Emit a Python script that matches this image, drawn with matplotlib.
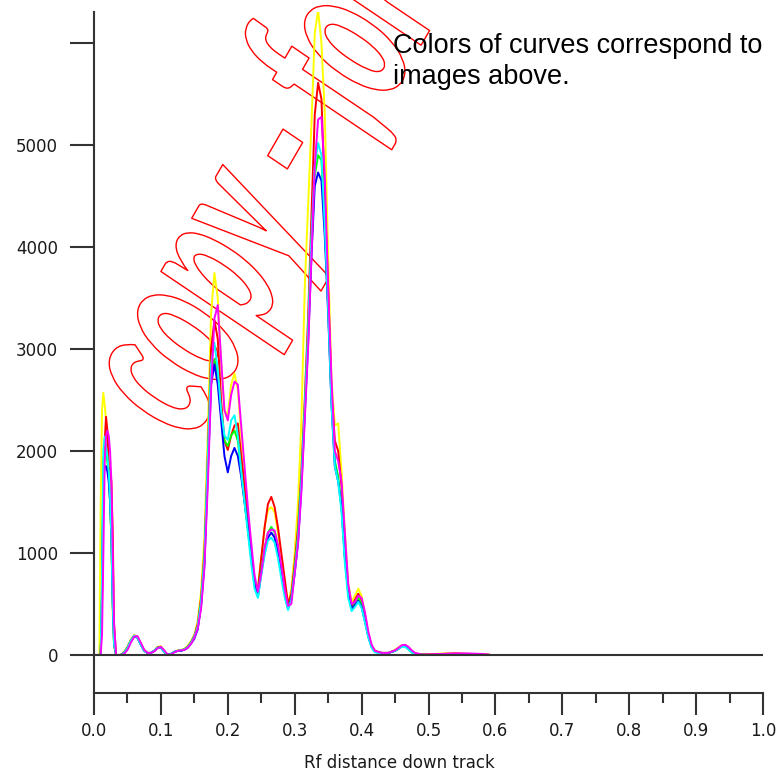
import numpy as np
import matplotlib
matplotlib.use("Agg")
import matplotlib.pyplot as plt
import matplotlib.patheffects as pe
from matplotlib.ticker import MultipleLocator
from matplotlib.transforms import Affine2D

# Rf positions along the track (shared by all six profiles)
rf = [0.000, 0.008, 0.010, 0.012, 0.014, 0.016, 0.018, 0.020, 0.022, 0.024, 0.026, 0.028, 0.030,
      0.033, 0.036, 0.040, 0.045, 0.050, 0.055, 0.060, 0.065, 0.070, 0.075, 0.080, 0.085,
      0.090, 0.095, 0.100, 0.105, 0.110, 0.115, 0.120, 0.125, 0.130, 0.135, 0.140, 0.145,
      0.150, 0.155, 0.160, 0.165, 0.170, 0.175, 0.180, 0.185, 0.190, 0.195, 0.200, 0.205,
      0.210, 0.215, 0.220, 0.225, 0.230, 0.235, 0.240, 0.245, 0.250, 0.255, 0.260, 0.265,
      0.270, 0.275, 0.280, 0.285, 0.290, 0.295, 0.300, 0.305, 0.310, 0.315, 0.320, 0.325,
      0.330, 0.335, 0.340, 0.345, 0.350, 0.355, 0.360, 0.365, 0.370, 0.375, 0.380, 0.385,
      0.390, 0.395, 0.400, 0.405, 0.410, 0.415, 0.420, 0.430, 0.440, 0.450, 0.455, 0.460,
      0.465, 0.470, 0.475, 0.480, 0.490, 0.500, 0.520, 0.540, 0.560, 0.580, 0.590]

yellow = [0, 0, 1500, 2400, 2570, 2450, 2300, 2100, 1900, 1600, 1050, 400, 80,
          0, 0, 0, 30, 80, 150, 195, 180, 110, 50, 20, 20,
          40, 80, 85, 40, 5, 10, 30, 45, 50, 60, 90, 135,
          200, 330, 620, 1150, 2150, 3350, 3745, 3500, 2850, 2400, 2350, 2650,
          2760, 2600, 2150, 1750, 1350, 1000, 720, 650, 950, 1250, 1420, 1450,
          1400, 1200, 950, 700, 500, 650, 1000, 1500, 2300, 3600, 4400, 5200,
          6100, 6320, 6000, 5300, 3900, 2700, 2250, 2270, 1800, 1200, 700, 520,
          580, 650, 580, 400, 210, 90, 40, 20, 20, 50, 75, 95,
          100, 70, 40, 15, 5, 5, 15, 15, 10, 10, 5]

red = [0, 0, 0, 500, 1600, 2100, 2335, 2200, 1850, 1800, 1700, 1200, 300,
       0, 0, 0, 25, 75, 145, 190, 175, 105, 45, 20, 20,
       40, 75, 80, 35, 0, 10, 30, 40, 45, 55, 80, 125,
       190, 300, 560, 1000, 1950, 3000, 3280, 3100, 2500, 2100, 2010, 2150,
       2250, 2270, 1950, 1650, 1350, 1000, 720, 640, 950, 1250, 1480, 1550,
       1450, 1250, 1000, 750, 500, 600, 900, 1250, 1800, 2500, 3300, 4300,
       5300, 5610, 5450, 4500, 3600, 2600, 2100, 2000, 1650, 1100, 650, 480,
       540, 600, 540, 380, 200, 90, 40, 20, 20, 45, 65, 85,
       90, 65, 35, 15, 5, 5, 10, 15, 10, 5, 0]

green = [0, 0, 0, 700, 1900, 2000, 1950, 1900, 1750, 1500, 1150, 500, 100,
         0, 0, 0, 20, 70, 140, 185, 170, 100, 40, 20, 20,
         40, 70, 75, 30, 0, 10, 30, 40, 45, 55, 75, 120,
         180, 270, 500, 920, 1850, 2750, 2900, 2750, 2350, 2100, 2050, 2150,
         2200, 2100, 1800, 1500, 1230, 950, 680, 600, 830, 1050, 1200, 1255,
         1200, 1020, 800, 600, 460, 560, 850, 1180, 1720, 2420, 3150, 4000,
         4700, 4900, 4850, 4200, 3400, 2500, 1900, 1750, 1450, 950, 600, 450,
         500, 560, 500, 340, 180, 80, 30, 20, 20, 40, 60, 85,
         85, 55, 25, 10, 5, 0, 0, 5, 0, 0, 0]

blue = [0, 0, 0, 600, 1700, 1850, 1850, 1800, 1700, 1500, 1150, 500, 100,
        0, 0, 0, 20, 60, 130, 180, 170, 100, 40, 20, 20,
        40, 70, 70, 30, 0, 10, 30, 40, 40, 50, 70, 110,
        160, 250, 480, 880, 1750, 2650, 2850, 2650, 2300, 1950, 1790, 1950,
        2030, 1950, 1750, 1500, 1250, 950, 700, 570, 800, 1000, 1150, 1200,
        1150, 1000, 800, 600, 450, 550, 800, 1100, 1650, 2350, 3050, 3900,
        4600, 4730, 4650, 4100, 3350, 2450, 1850, 1700, 1450, 950, 620, 450,
        490, 530, 470, 330, 180, 80, 30, 20, 20, 40, 60, 85,
        90, 60, 30, 10, 0, 0, 0, 0, 0, 0, 0]

cyan = [0, 0, 0, 800, 2000, 2140, 2050, 1950, 1800, 1550, 1150, 500, 100,
        0, 0, 0, 20, 70, 140, 190, 170, 100, 40, 20, 20,
        40, 70, 75, 30, 0, 10, 30, 40, 45, 55, 75, 120,
        180, 280, 520, 950, 1900, 2850, 3060, 2800, 2400, 2150, 2110, 2300,
        2350, 2150, 1800, 1500, 1200, 900, 650, 560, 780, 980, 1120, 1150,
        1100, 950, 750, 570, 440, 540, 820, 1150, 1700, 2400, 3150, 4100,
        4800, 5020, 4900, 4200, 3400, 2450, 1850, 1700, 1400, 900, 560, 430,
        470, 520, 460, 320, 170, 70, 25, 15, 20, 40, 60, 80,
        80, 55, 25, 5, 0, 0, 0, 0, 0, 0, 0]

magenta = [0, 0, 0, 200, 1000, 1900, 2150, 2200, 2150, 2000, 1700, 1000, 300,
           0, 0, 0, 10, 50, 120, 180, 185, 120, 50, 20, 20,
           35, 65, 80, 45, 5, 5, 25, 40, 45, 50, 70, 110,
           170, 260, 450, 850, 1650, 2600, 3300, 3430, 2900, 2400, 2300, 2550,
           2680, 2650, 2250, 1850, 1450, 1100, 780, 620, 800, 1050, 1200, 1230,
           1220, 1080, 880, 650, 480, 500, 800, 1100, 1600, 2300, 3000, 3900,
           4800, 5250, 5275, 4700, 3600, 2700, 2000, 1900, 1700, 1200, 700, 500,
           520, 580, 560, 420, 230, 100, 40, 20, 20, 45, 70, 95,
           100, 80, 45, 20, 5, 5, 10, 15, 15, 10, 5]

series = [yellow, red, green, blue, cyan, magenta]
colors = ["#ffff00", "#ff0000", "#00ff00", "#0000ff", "#00ffff", "#ff00ff"]

yticks = [0, 1000, 2000, 3000, 4000, 5000, 6000]
ytick_labels = ["0", "1000", "2000", "3000", "4000", "5000", ""]

note = "Colors of curves correspond to\nimages above."
watermark = "copy - for"

axis_col = "#333333"


class Outline(pe.AbstractPathEffect):
    # draws only the glyph outline, stretched upward from the baseline
    def __init__(self, stretch=1.0, color="red", lw=1.0):
        super().__init__()
        self.stretch = stretch
        self.color = color
        self.lw = lw

    def draw_path(self, renderer, gc, tpath, affine, rgbFace=None):
        gc0 = renderer.new_gc()
        gc0.copy_properties(gc)
        gc0.set_foreground(self.color)
        gc0.set_linewidth(self.lw)
        renderer.draw_path(gc0, tpath, Affine2D().scale(1, self.stretch) + affine, None)
        gc0.restore()


fig = plt.figure(figsize=(7.78, 7.73), dpi=100)
ax = fig.add_axes([94 / 778, 80 / 773, 669 / 778, 681 / 773])

for ys, c in zip(series, colors):
    ax.plot(rf, ys, color=c, lw=1.4, zorder=2)

ax.axhline(0, color=axis_col, lw=1.5, zorder=3)

ax.set_xlim(0, 1)
ax.set_ylim(-373, 6304)

for side in ["top", "right"]:
    ax.spines[side].set_visible(False)
for side in ["left", "bottom"]:
    ax.spines[side].set_color(axis_col)
    ax.spines[side].set_linewidth(1.5)

ax.xaxis.set_major_locator(MultipleLocator(0.1))
ax.xaxis.set_minor_locator(MultipleLocator(0.05))
ax.xaxis.set_major_formatter(lambda v, p: "%.1f" % v)
ax.set_yticks(yticks)
ax.set_yticklabels(ytick_labels)

ax.tick_params(axis="y", direction="out", length=17, width=1.5, color=axis_col,
               labelsize=12, labelcolor="#1a1a1a", pad=9)
ax.tick_params(axis="x", which="major", direction="out", length=16, width=1.5,
               color=axis_col, labelsize=12, labelcolor="#1a1a1a", pad=5)
ax.tick_params(axis="x", which="minor", direction="out", length=7, width=1.5, color=axis_col)

ax.set_xlabel("Rf distance down track", fontsize=12, color="#1a1a1a")
ax.xaxis.set_label_coords(0.457, -0.09)

fig.text(393 / 778, 1 - 33 / 773, note, fontsize=19.5, family=["Liberation Sans", "DejaVu Sans"],
         ha="left", va="top", linespacing=1.25, color="black")

ax.text(192 / 778, 1 - 442 / 773, watermark, transform=fig.transFigure, rotation=60,
        rotation_mode="anchor", ha="left", va="baseline", fontsize=90,
        family=["Lato", "Liberation Sans"], weight="black", style="italic",
        color="none", path_effects=[Outline(1.74)], zorder=1, clip_on=False)

fig.savefig("out.png", dpi=100)
